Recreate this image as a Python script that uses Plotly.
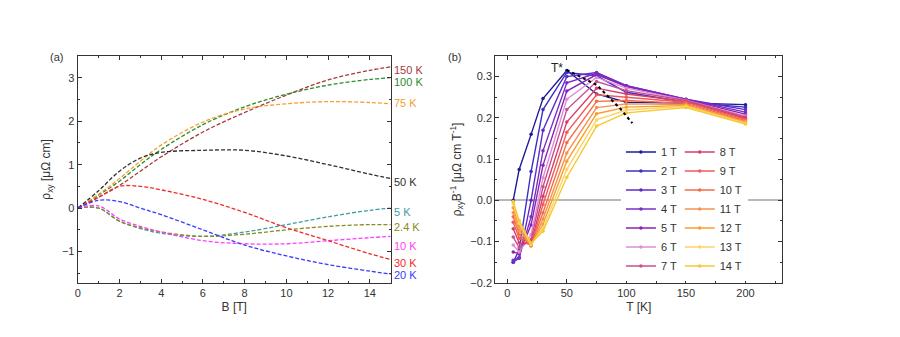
import plotly.graph_objects as go

# ---------------- Panel (a): rho_xy vs B ----------------
B = [0, 1, 2, 3, 4, 6, 8, 10, 12, 14, 15]
rho_150K = [0, 0.25, 0.52, 0.85, 1.18, 1.75, 2.20, 2.60, 2.95, 3.17, 3.25]
rho_100K = [0, 0.30, 0.62, 1.00, 1.35, 1.92, 2.33, 2.62, 2.83, 2.96, 3.00]
rho_75K = [0, 0.32, 0.68, 1.08, 1.45, 1.98, 2.28, 2.40, 2.45, 2.43, 2.40]
rho_50K = [0, 0.40, 0.85, 1.15, 1.28, 1.33, 1.33, 1.20, 1.00, 0.78, 0.68]
rho_30K = [0, 0.25, 0.50, 0.50, 0.42, 0.20, -0.10, -0.45, -0.75, -1.05, -1.18]
rho_20K = [0, 0.18, 0.15, 0.00, -0.15, -0.50, -0.85, -1.10, -1.30, -1.45, -1.52]
rho_10K = [0, 0.05, -0.25, -0.42, -0.55, -0.75, -0.82, -0.82, -0.75, -0.68, -0.65]
rho_5K = [0, 0.00, -0.30, -0.47, -0.58, -0.65, -0.55, -0.38, -0.20, -0.05, 0.00]
rho_2K4 = [0, 0.00, -0.30, -0.45, -0.55, -0.65, -0.60, -0.50, -0.42, -0.38, -0.38]

left_series = [
    ("150 K", rho_150K, "#a8383a", 3.18),
    ("100 K", rho_100K, "#2e8b2e", 2.90),
    ("75 K", rho_75K, "#f5a030", 2.41),
    ("50 K", rho_50K, "#303030", 0.61),
    ("5 K", rho_5K, "#3a9e9e", -0.10),
    ("2.4 K", rho_2K4, "#8a8a20", -0.44),
    ("10 K", rho_10K, "#ff3cff", -0.87),
    ("30 K", rho_30K, "#f02a2a", -1.26),
    ("20 K", rho_20K, "#3a3aff", -1.54),
]

# ---------------- Panel (b): rho_xy/B vs T ----------------
T = [5, 10, 20, 30, 50, 75, 100, 150, 200]
fields = ["1 T", "2 T", "3 T", "4 T", "5 T", "6 T", "7 T",
          "8 T", "9 T", "10 T", "11 T", "12 T", "13 T", "14 T"]
r1 = [0.000, 0.075, 0.160, 0.247, 0.315, 0.258, 0.238, 0.236, 0.232]
r2 = [-0.150, -0.120, 0.070, 0.220, 0.310, 0.302, 0.262, 0.238, 0.226]
r3 = [-0.150, -0.140, 0.000, 0.170, 0.300, 0.310, 0.278, 0.245, 0.220]
r4 = [-0.145, -0.138, -0.040, 0.120, 0.285, 0.308, 0.278, 0.245, 0.214]
r5 = [-0.125, -0.130, -0.060, 0.085, 0.265, 0.305, 0.276, 0.244, 0.209]
r6 = [-0.108, -0.125, -0.083, 0.055, 0.245, 0.298, 0.272, 0.243, 0.205]
r7 = [-0.089, -0.115, -0.095, 0.033, 0.220, 0.288, 0.266, 0.242, 0.202]
r8 = [-0.069, -0.103, -0.106, 0.010, 0.190, 0.272, 0.258, 0.240, 0.199]
r9 = [-0.053, -0.092, -0.110, -0.010, 0.165, 0.256, 0.250, 0.238, 0.196]
r10 = [-0.040, -0.082, -0.110, -0.030, 0.140, 0.240, 0.242, 0.235, 0.193]
r11 = [-0.030, -0.072, -0.110, -0.045, 0.115, 0.225, 0.234, 0.232, 0.191]
r12 = [-0.018, -0.063, -0.108, -0.058, 0.095, 0.210, 0.226, 0.230, 0.189]
r13 = [-0.008, -0.055, -0.107, -0.068, 0.075, 0.195, 0.219, 0.228, 0.187]
r14 = [-0.003, -0.049, -0.104, -0.075, 0.056, 0.180, 0.212, 0.225, 0.185]
right_values = [r1, r2, r3, r4, r5, r6, r7, r8, r9, r10, r11, r12, r13, r14]
right_colors = ["#1c1c96", "#3a30c4", "#5e2cc8", "#7a2ec4", "#8c22b4", "#d890d8", "#c8508e",
                "#d83c6a", "#f05a5a", "#f46c48", "#f89050", "#f8a02c", "#fad46a", "#f8c830"]

tstar_T = [50, 75, 95, 105]
tstar_val = [0.316, 0.280, 0.222, 0.187]

FONT = "Liberation Sans, Arial, sans-serif"
fig = go.Figure()

for name, vals, col, ylab in left_series:
    fig.add_trace(go.Scatter(x=B, y=vals, mode="lines", line=dict(color=col, width=1.3, dash="4px,2px", shape="spline"),
                             showlegend=False, xaxis="x", yaxis="y"))
    fig.add_annotation(x=0.4335, xref="paper", y=ylab, yref="y", text=name, showarrow=False,
                       xanchor="left", yanchor="middle", font=dict(color=col, size=11, family=FONT))

for i, (name, vals, col) in enumerate(zip(fields, right_values, right_colors)):
    fig.add_trace(go.Scatter(x=T, y=vals, mode="lines+markers", name=name,
                             line=dict(color=col, width=1.4), marker=dict(color=col, size=3.5),
                             xaxis="x2", yaxis="y2", legend="legend" if i < 7 else "legend2"))

fig.add_trace(go.Scatter(x=tstar_T, y=tstar_val, mode="lines", line=dict(color="black", width=2, dash="dot"),
                         showlegend=False, xaxis="x2", yaxis="y2"))
fig.add_annotation(x=42, y=0.322, xref="x2", yref="y2", text="T*", showarrow=False,
                   font=dict(size=12, family=FONT, color="#222"))

fig.add_annotation(x=45 / 900, y=1 - 50 / 337, xref="paper", yref="paper", text="(a)", showarrow=False,
                   font=dict(size=11, family=FONT, color="#333"))
fig.add_annotation(x=453 / 900, y=1 - 50 / 337, xref="paper", yref="paper", text="(b)", showarrow=False,
                   font=dict(size=11, family=FONT, color="#333"))

ax_common = dict(showline=True, linecolor="#333", linewidth=1.2, mirror="ticks", ticks="inside",
                 ticklen=4, tickcolor="#333", showgrid=False,
                 tickfont=dict(size=11, family=FONT, color="#333"),
                 title_font=dict(size=12, family=FONT, color="#333"))
ydom = [1 - 288 / 337, 1 - 57 / 337]

fig.update_layout(
    width=900, height=337, margin=dict(l=0, r=0, t=0, b=0),
    paper_bgcolor="white", plot_bgcolor="white",
    xaxis=dict(domain=[75 / 900, 389 / 900], range=[0, 15], dtick=2, tick0=0, zeroline=False,
               minor=dict(dtick=1, ticks="inside", ticklen=2, tickcolor="#333"),
               title=dict(text="B [T]", standoff=4), anchor="y", **ax_common),
    yaxis=dict(domain=ydom, range=[-1.72, 3.5], dtick=1, tick0=0, zeroline=False,
               minor=dict(dtick=0.5, ticks="inside", ticklen=2, tickcolor="#333"),
               title=dict(text="ρ<sub>xy</sub> [μΩ cm]", standoff=8), anchor="x", **ax_common),
    xaxis2=dict(domain=[494 / 900, 782 / 900], range=[-10, 231], dtick=50, tick0=0, zeroline=False,
                minor=dict(dtick=25, ticks="inside", ticklen=2, tickcolor="#333"),
                title=dict(text="T [K]", standoff=4), anchor="y2", **ax_common),
    yaxis2=dict(domain=ydom, range=[-0.2, 0.35], dtick=0.1, tick0=0, tickformat=".1f",
                minor=dict(dtick=0.05, ticks="inside", ticklen=2, tickcolor="#333"),
                title=dict(text="ρ<sub>xy</sub>B<sup>-1</sup> [μΩ cm T<sup>-1</sup>]", standoff=6),
                anchor="x2", zeroline=True, zerolinecolor="#b8b8b8", zerolinewidth=2, **ax_common),
    legend=dict(x=620 / 900, y=1 - 140 / 337, xanchor="left", yanchor="top", bgcolor="white",
                font=dict(size=11, family=FONT, color="#333"), itemwidth=30, tracegroupgap=0),
    legend2=dict(x=679 / 900, y=1 - 140 / 337, xanchor="left", yanchor="top", bgcolor="white",
                 font=dict(size=11, family=FONT, color="#333"), itemwidth=30, tracegroupgap=0),
)

fig.write_html("out.html")
